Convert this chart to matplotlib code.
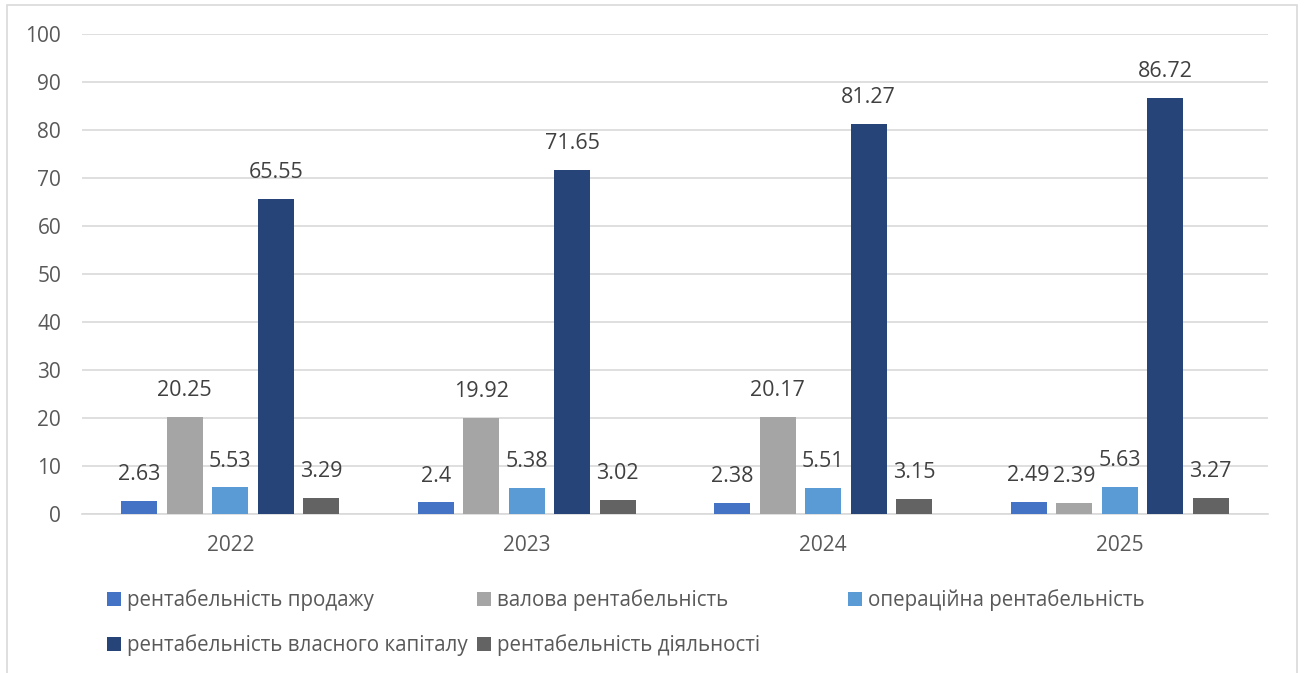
import matplotlib
matplotlib.use("Agg")
import matplotlib.pyplot as plt
import numpy as np
from matplotlib.patches import Rectangle, Patch

plt.rcParams['font.family'] = ['Open Sans', 'DejaVu Sans']

years = ['2022', '2023', '2024', '2025']
series_names = ['рентабельність продажу', 'валова рентабельність', 'операційна рентабельність',
                'рентабельність власного капіталу', 'рентабельність діяльності']
sales = [2.63, 2.4, 2.38, 2.49]
gross = [20.25, 19.92, 20.17, 2.39]
operating = [5.53, 5.38, 5.51, 5.63]
equity = [65.55, 71.65, 81.27, 86.72]
activity = [3.29, 3.02, 3.15, 3.27]
colors = ['#4472C4', '#A5A5A5', '#5B9BD5', '#264478', '#636363']

values = [sales, gross, operating, equity, activity]

W, H = 1304, 673
fig = plt.figure(figsize=(W / 100, H / 100), dpi=100)
ax = fig.add_axes([82 / W, 1 - 514 / H, (1268 - 82) / W, (514 - 34) / H])

x = np.arange(len(years))
pitch = 0.1535
bw = 0.121
text_col = '#404040'
for i, (vals, c) in enumerate(zip(values, colors)):
    pos = x + (i - 2) * pitch
    bars = ax.bar(pos, vals, width=bw, color=c, zorder=3)
    for b, v in zip(bars, vals):
        ax.annotate(f'{v:g}', (b.get_x() + b.get_width() / 2, v), xytext=(0, 19),
                    textcoords='offset points', ha='center', va='center',
                    fontsize=15.5, color=text_col)

ax.set_xlim(-0.5, 3.5)
ax.set_ylim(0, 100)
ax.set_yticks(range(0, 101, 10))
ax.set_xticks(x)
ax.set_xticklabels(years)
ax.grid(axis='y', color='#d9d9d9', linewidth=1.2, zorder=0)
for s in ['left', 'right', 'top']:
    ax.spines[s].set_visible(False)
ax.spines['bottom'].set_color('#d9d9d9')
ax.spines['bottom'].set_linewidth(1.2)
ax.tick_params(axis='both', length=0, labelsize=15, labelcolor='#595959')
ax.tick_params(axis='y', pad=15)
ax.tick_params(axis='x', pad=15)

handles = [Patch(facecolor=c, edgecolor='none') for c in colors]
col_groups = [([0, 3], 107), ([1, 4], 477), ([2], 848)]
for idx, xpix in col_groups:
    fig.legend([handles[j] for j in idx], [series_names[j] for j in idx],
               loc='upper left', bbox_to_anchor=(xpix / W, 1 - 589 / H),
               frameon=False, fontsize=14.8, labelcolor='#595959',
               handlelength=0.68, handleheight=0.65, handletextpad=0.3,
               labelspacing=1.13, borderpad=0, borderaxespad=0)

fig.add_artist(Rectangle((7 / W, -0.01), (1297 - 7) / W, 1.01 - 5 / H,
                         transform=fig.transFigure, fill=False,
                         edgecolor='#d9d9d9', linewidth=1.2))

fig.savefig('out.png', dpi=100)
